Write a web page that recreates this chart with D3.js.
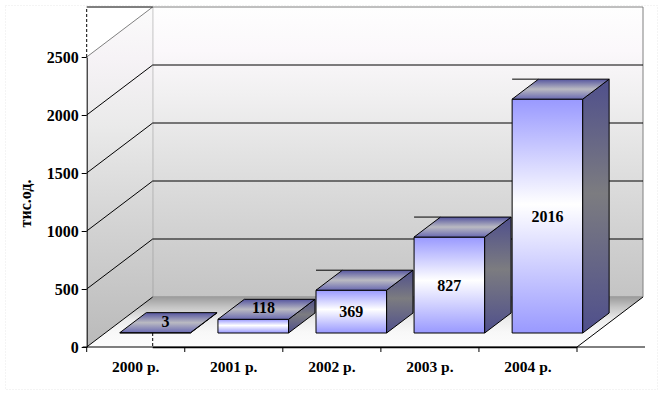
<!DOCTYPE html>
<html>
<head>
<meta charset="utf-8">
<script src="https://cdn.jsdelivr.net/npm/d3@7"></script>
<style>
  body { margin: 0; background: #fff; }
  text { font-family: "Liberation Serif", "Times New Roman", serif; font-weight: bold; fill: #000; }
</style>
</head>
<body>
<svg id="chart" width="663" height="393"></svg>
<script>
// values
const categories = ["2000 р.", "2001 р.", "2002 р.", "2003 р.", "2004 р."];
const values = [3, 118, 369, 827, 2016];
const yTicks = [0, 500, 1000, 1500, 2000, 2500];
const yTitle = "тис.од.";

var svg = d3.select("#chart");
var W = 663, H = 393;

// front plane of the box and its depth offset
var X0 = 86.7, X1 = 577;
var DX = 66, DY = -50;
var D0 = 0.28, D1 = 0.68;   // bar depth (front / back) as share of box depth

var x = d3.scaleBand().domain(categories).range([X0, X1]);
var y = d3.scaleLinear().domain([0, 2500]).range([347, 57]);

function p(px, v, d) {
    return [px + d * DX, y(v) + d * DY];
}
function poly(pts) {
    return pts.map(q => q[0] + "," + q[1]).join(" ");
}

var defs = svg.append("defs");
function vgrad(id, stops) {
    var g = defs.append("linearGradient").attr("id", id)
        .attr("x1", 0).attr("y1", 0).attr("x2", 0).attr("y2", 1);
    stops.forEach(s => g.append("stop").attr("offset", s[0]).attr("stop-color", s[1]));
}
vgrad("wall", [[0, "#fefefe"], [0.15, "#fbf8fb"], [0.3, "#f1f0f1"], [0.5, "#e3e3e3"], [0.75, "#d3d3d3"], [1, "#c4c4c4"]]);
vgrad("side", [[0, "#fbfbfb"], [0.15, "#f6f3f6"], [0.35, "#eaeaea"], [0.6, "#d6d6d6"], [1, "#bababa"]]);
vgrad("floor", [[0, "#9c9c9c"], [0.2, "#c4c4c4"], [0.45, "#ececec"], [0.7, "#f8f8f8"], [1, "#fcfcfc"]]);
vgrad("front", [[0, "#9999ff"], [0.45, "#ffffff"], [1, "#9999ff"]]);
vgrad("top", [[0, "#55559f"], [0.5, "#babac2"], [1, "#6a6ab2"]]);
vgrad("right", [[0, "#4f4f8c"], [0.45, "#7c7c80"], [1, "#4f4f8c"]]);

svg.append("rect").attr("width", W).attr("height", H).attr("fill", "#fff");
svg.append("rect")
    .attr("x", 5.5).attr("y", 5.5).attr("width", 652).attr("height", 384)
    .attr("fill", "none").attr("stroke", "#e8e8e8").attr("stroke-dasharray", "1,2");

// walls and floor
svg.append("polygon")
    .attr("points", poly([p(X0, 0, 1), p(X1, 0, 1), p(X1, 2500, 1), p(X0, 2500, 1)]))
    .attr("fill", "url(#wall)").attr("stroke", "#808080");
svg.append("polygon")
    .attr("points", poly([p(X0, 0, 0), p(X0, 0, 1), p(X0, 2500, 1), p(X0, 2500, 0)]))
    .attr("fill", "url(#side)");
svg.append("polygon")
    .attr("points", poly([p(X0, 0, 0), p(X1, 0, 0), p(X1, 0, 1), p(X0, 0, 1)]))
    .attr("fill", "url(#floor)");

// gridlines
yTicks.forEach(v => {
    var top = v == 2500;
    var a = p(X0, v, 0), b = p(X0, v, 1), c = p(X1, v, 1);
    svg.append("line")
        .attr("x1", a[0]).attr("y1", a[1]).attr("x2", b[0]).attr("y2", b[1])
        .attr("stroke", top ? "#808080" : "#000").attr("stroke-width", 1);
    if (v > 0 && !top) {
        svg.append("line")
            .attr("x1", b[0]).attr("y1", b[1]).attr("x2", c[0]).attr("y2", c[1])
            .attr("stroke", "#000");
    }
});

// right floor edge
var fr0 = p(X1, 0, 0), fr1 = p(X1, 0, 1);
svg.append("line")
    .attr("x1", fr0[0]).attr("y1", fr0[1]).attr("x2", fr1[0]).attr("y2", fr1[1])
    .attr("stroke", "#000");

// dashed upper part of the axis box
var bt = p(X0, 2500, 1);
svg.append("line")
    .attr("x1", X0).attr("y1", y(2500)).attr("x2", X0).attr("y2", bt[1])
    .attr("stroke", "#000").attr("stroke-dasharray", "3,2");
svg.append("line")
    .attr("x1", X0).attr("y1", bt[1]).attr("x2", bt[0]).attr("y2", bt[1])
    .attr("stroke", "#000");
var bc = p(X0, 0, 1), bd = p(X0, 0, D0);
svg.append("line")
    .attr("x1", bc[0]).attr("y1", bd[1]).attr("x2", bc[0]).attr("y2", y(0))
    .attr("stroke", "#000").attr("stroke-dasharray", "3,2");

// bars
var bw = x.bandwidth();
var bars = svg.append("g");
categories.forEach((cat, i) => {
    var v = values[i];
    var h = y(0) - y(v);
    var xl = x(cat) + 0.15 * bw, xr = xl + 0.72 * bw;
    var g = bars.append("g").attr("stroke", "#000").attr("stroke-width", 1);
    g.append("polygon")
        .attr("points", poly([p(xl, 0, D0), p(xr, 0, D0), p(xr, v, D0), p(xl, v, D0)]))
        .attr("fill", "url(#front)");
    g.append("polygon")
        .attr("points", poly([p(xr, 0, D0), p(xr, 0, D1), p(xr, v, D1), p(xr, v, D0)]))
        .attr("fill", "url(#right)");
    g.append("polygon")
        .attr("points", poly([p(xl, v, D0), p(xr, v, D0), p(xr, v, D1), p(xl, v, D1)]))
        .attr("fill", "url(#top)");
    if (h > 25) {
        var bk = p(xl, v, D1), fl = p(xl, v, D0);
        g.append("line")
            .attr("x1", fl[0]).attr("y1", bk[1]).attr("x2", bk[0]).attr("y2", bk[1]);
    }

    // value label: on the front face, or on the top face when the bar is low
    var lx, ly;
    if (h > 25) {
        lx = (p(xl, 0, D0)[0] + p(xr, 0, D0)[0]) / 2;
        ly = (p(xl, 0, D0)[1] + p(xl, v, D0)[1]) / 2;
    } else {
        var m = p((xl + xr) / 2, v, (D0 + D1) / 2);
        lx = m[0] - 3; ly = m[1] - 1.5;
    }
    svg.append("text")
        .attr("x", lx).attr("y", ly).attr("dy", "0.35em")
        .attr("text-anchor", "middle").style("font-size", "16px")
        .text(v);
});

// y axis
var yAxis = svg.append("g")
    .attr("transform", "translate(" + X0 + ",0)")
    .call(d3.axisLeft(y).tickValues(yTicks).tickFormat(d3.format("d"))
        .tickSize(5).tickSizeOuter(0).tickPadding(3));
yAxis.select(".domain").attr("stroke", "#000");
yAxis.selectAll("line").attr("stroke", "#000");
yAxis.selectAll("text")
    .style("font-size", "16px").style("font-family", "'Liberation Serif', serif")
    .style("font-weight", "bold").attr("fill", "#000");

// x axis
svg.append("line")
    .attr("x1", X0 - 4).attr("y1", y(0)).attr("x2", fr1[0] + 2).attr("y2", y(0))
    .attr("stroke", "#000");
svg.append("line")
    .attr("x1", bc[0]).attr("y1", y(0) + 0.5).attr("x2", X1).attr("y2", y(0) + 0.5)
    .attr("stroke", "#000").attr("stroke-width", 1.5);
d3.range(categories.length + 1).forEach(i => {
    var tx = X0 + i * x.step();
    svg.append("line")
        .attr("x1", tx).attr("y1", y(0)).attr("x2", tx).attr("y2", y(0) + 5)
        .attr("stroke", "#000");
});
var xAxis = svg.append("g")
    .attr("transform", "translate(0," + y(0) + ")")
    .call(d3.axisBottom(x).tickSize(0).tickPadding(14));
xAxis.select(".domain").remove();
xAxis.selectAll("text")
    .style("font-size", "15.5px").style("font-family", "'Liberation Serif', serif")
    .style("font-weight", "bold").attr("fill", "#000");

// axis title
svg.append("text")
    .attr("transform", "translate(31,203.5) rotate(-90)")
    .attr("text-anchor", "middle")
    .style("font-size", "16px")
    .text(yTitle);
</script>
</body>
</html>
